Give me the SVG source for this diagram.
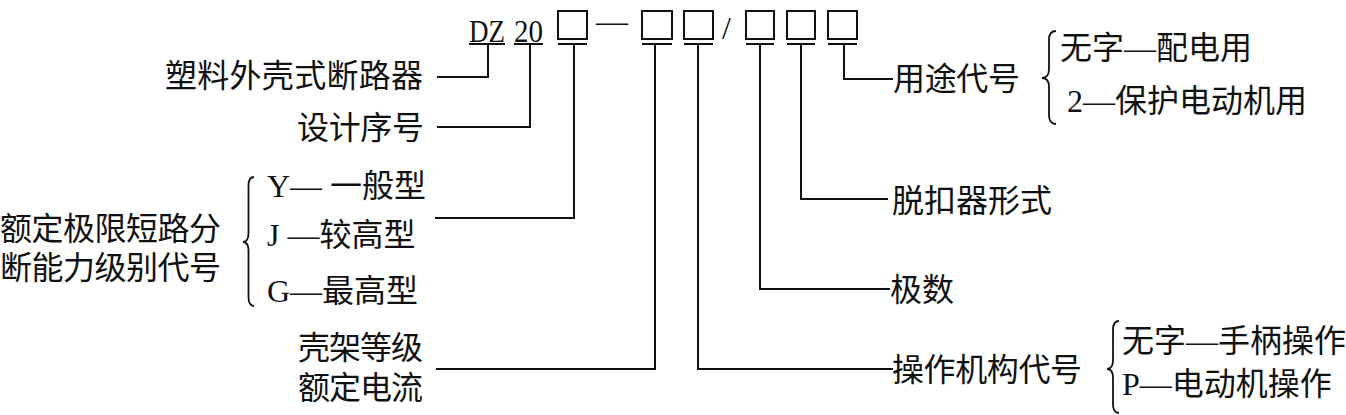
<svg xmlns="http://www.w3.org/2000/svg" width="1346" height="415" viewBox="0 0 1346 415">
<style>
.t{font-family:"Liberation Serif","Noto Sans CJK SC",serif;font-size:32px;fill:#111}
.c{font-family:"Noto Sans CJK SC","Liberation Serif",sans-serif;font-size:32px;fill:#111}
.l{fill:none;stroke:#111;stroke-width:2}
.b{fill:none;stroke:#111;stroke-width:1.8}
</style>
<rect width="1346" height="415" fill="#fff"/>
<g id="model">
<text class="t" x="469" y="41.5" font-size="32" textLength="36" lengthAdjust="spacingAndGlyphs">DZ</text>
<text class="t" x="514" y="41.5" font-size="32" textLength="29" lengthAdjust="spacingAndGlyphs">20</text>
<text class="t" x="596" y="32" textLength="32" lengthAdjust="spacingAndGlyphs">—</text>
<text class="t" x="722" y="39" font-size="30">/</text>
<g class="l">
<rect x="558" y="11" width="29" height="28"/>
<rect x="642" y="11" width="30" height="28"/>
<rect x="684" y="11" width="29" height="28"/>
<rect x="746" y="11" width="28" height="28"/>
<rect x="787" y="11" width="28" height="28"/>
<rect x="828" y="11" width="29" height="28"/>
<path d="M469 44H505M514 44H543M558 44H587M642 44H672M684 44H713M746 44H774M787 44H815M828 44H857"/>
</g>
</g>
<g id="connectors" class="l">
<path d="M488 44V77H437"/>
<path d="M530 44V127H437"/>
<path d="M574 44V218H435"/>
<path d="M655 44V369H436"/>
<path d="M698 44V369H893"/>
<path d="M760 44V289H890"/>
<path d="M801 44V199H888"/>
<path d="M844 44V79H893"/>
</g>
<g id="n-shell"><text class="c" x="165" y="87" textLength="258">塑料外壳式断路器</text></g>
<g id="n-design"><text class="c" x="297" y="139" textLength="127">设计序号</text></g>
<g id="n-breaking">
<text class="c" x="0" y="240" textLength="221">额定极限短路分</text>
<text class="c" x="0" y="279" textLength="221">断能力级别代号</text>
<path class="b" d="M254 177Q248.5 177 248.5 186V233Q248.5 242 243 242Q248.5 242 248.5 251V297Q248.5 306 254 306"/>
<text class="t" x="267" y="197">Y— 一般型</text>
<text class="t" x="267" y="246">J —较高型</text>
<text class="t" x="267" y="302">G—最高型</text>
</g>
<g id="n-frame">
<text class="c" x="298" y="359" textLength="125">壳架等级</text>
<text class="c" x="298" y="399" textLength="125">额定电流</text>
</g>
<g id="n-use">
<text class="c" x="893" y="90" textLength="127">用途代号</text>
<path class="b" d="M1056 31Q1049 31 1049 40V69Q1049 78 1042 78Q1049 78 1049 87V115Q1049 124 1056 124"/>
<text class="t" x="1060" y="59">无字—配电用</text>
<text class="t" x="1067" y="112">2—保护电动机用</text>
</g>
<g id="n-trip"><text class="c" x="892" y="212" textLength="160">脱扣器形式</text></g>
<g id="n-poles"><text class="c" x="890" y="301" textLength="64">极数</text></g>
<g id="n-operate">
<text class="c" x="892" y="381" textLength="190">操作机构代号</text>
<path class="b" d="M1119 321Q1113 321 1113 330V360Q1113 369 1107 369Q1113 369 1113 378V404Q1113 413 1119 413"/>
<text class="t" x="1122" y="352">无字—手柄操作</text>
<text class="t" x="1122" y="395">P—电动机操作</text>
</g>
</svg>
